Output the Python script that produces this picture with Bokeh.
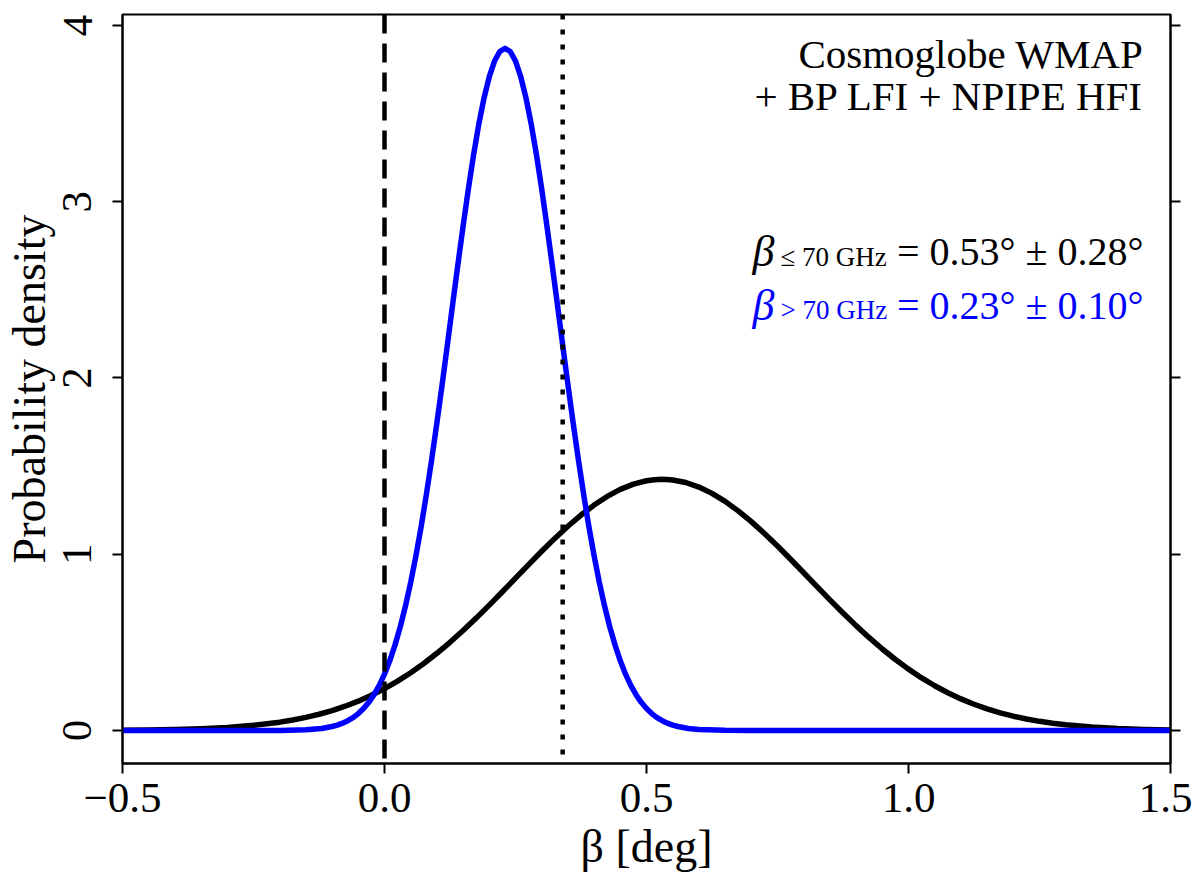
from bokeh.embed import file_html
from bokeh.resources import INLINE
from bokeh.models import Range1d, FixedTicker, LinearAxis, Span, Label, CustomJSTickFormatter
from bokeh.plotting import figure

# black curve: beta <= 70 GHz
x_low = [-0.5, -0.45, -0.4, -0.35, -0.3, -0.25, -0.2, -0.175, -0.15, -0.125,
         -0.1, -0.075, -0.05, -0.025, 0.0, 0.025, 0.05, 0.075, 0.1, 0.125,
         0.15, 0.175, 0.2, 0.225, 0.25, 0.275, 0.3, 0.325, 0.35, 0.375,
         0.4, 0.425, 0.45, 0.475, 0.5, 0.515, 0.53, 0.545, 0.55, 0.575,
         0.6, 0.625, 0.65, 0.675, 0.7, 0.725, 0.75, 0.775, 0.8, 0.825,
         0.85, 0.875, 0.9, 0.925, 0.95, 0.975, 1.0, 1.025, 1.05, 1.075,
         1.1, 1.125, 1.15, 1.175, 1.2, 1.225, 1.25, 1.275, 1.3, 1.35,
         1.4, 1.45, 1.5]
p_low = [0.0016, 0.0031, 0.0057, 0.0102, 0.0176, 0.0294, 0.0476, 0.0599, 0.0746, 0.0924,
         0.1134, 0.138, 0.1667, 0.1998, 0.2375, 0.2802, 0.3279, 0.3805, 0.4382, 0.5006,
         0.5673, 0.6378, 0.7115, 0.7873, 0.8643, 0.9414, 1.017, 1.090, 1.159, 1.2225,
         1.279, 1.328, 1.368, 1.398, 1.417, 1.423, 1.425, 1.423, 1.421, 1.407,
         1.381, 1.3453, 1.300, 1.2462, 1.185, 1.1182, 1.0465, 0.9717, 0.8952, 0.8181,
         0.7416, 0.6671, 0.5952, 0.5268, 0.4626, 0.403, 0.3483, 0.2985, 0.2541, 0.2143,
         0.1795, 0.1491, 0.1228, 0.1003, 0.0814, 0.0654, 0.0522, 0.0414, 0.0325, 0.0196,
         0.0114, 0.0065, 0.0035]

# blue curve: beta > 70 GHz
x_high = [-0.5, -0.3, -0.2, -0.15, -0.12,
          -0.1, -0.09, -0.08, -0.07, -0.06, -0.05, -0.04, -0.03, -0.02, -0.01,
          0.0, 0.01, 0.02, 0.03, 0.04, 0.05, 0.06, 0.07, 0.08, 0.09,
          0.1, 0.11, 0.12, 0.13, 0.14, 0.15, 0.16, 0.17, 0.18, 0.19,
          0.2, 0.21, 0.22, 0.23, 0.24, 0.25, 0.26, 0.27, 0.28, 0.29,
          0.3, 0.31, 0.32, 0.33, 0.34, 0.35, 0.36, 0.37, 0.38, 0.39,
          0.4, 0.41, 0.42, 0.43, 0.44, 0.45, 0.46, 0.47, 0.48, 0.49,
          0.5, 0.51, 0.52, 0.53, 0.54, 0.55, 0.56, 0.58, 0.6, 0.65,
          0.7, 0.8, 1.0, 1.5]
p_high = [0.0, 0.0, 0.0006, 0.0043, 0.012,
          0.0228, 0.031, 0.0418, 0.0557, 0.0735, 0.0962, 0.1246, 0.160, 0.2034, 0.2563,
          0.3198, 0.3955, 0.4845, 0.5875, 0.7063, 0.8406, 0.9915, 1.1575, 1.341, 1.537,
          1.745, 1.963, 2.188, 2.416, 2.642, 2.862, 3.072, 3.266, 3.440, 3.589,
          3.709, 3.798, 3.852, 3.870, 3.852, 3.798, 3.709, 3.589, 3.440, 3.266,
          3.072, 2.862, 2.642, 2.416, 2.188, 1.963, 1.745, 1.537, 1.341, 1.1575,
          0.9915, 0.8406, 0.7063, 0.5875, 0.4845, 0.3955, 0.3198, 0.2563, 0.2034, 0.160,
          0.1246, 0.0962, 0.0735, 0.0557, 0.0418, 0.031, 0.0228, 0.012, 0.0061, 0.001,
          0.0001, 0.0, 0.0, 0.0]

vlines = [0.0, 0.34]
vline_dash = ["19 10", "5 10"]

x_ticks = [-0.5, 0.0, 0.5, 1.0, 1.5]
x_tick_labels = ["\u22120.5", "0.0", "0.5", "1.0", "1.5"]
y_ticks = [0, 1, 2, 3, 4]

title_lines = ["Cosmoglobe WMAP", "+ BP LFI + NPIPE HFI"]
sub_labels = ["\u2264 70 GHz", "> 70 GHz"]
val_labels = ["= 0.53\u00b0 \u00b1 0.28\u00b0", "= 0.23\u00b0 \u00b1 0.10\u00b0"]
val_colors = ["black", "#0000ff"]

FONT = "Liberation Serif"

p = figure(width=1192, height=874, output_backend="svg", toolbar_location=None,
           x_range=Range1d(-0.5, 1.5), y_range=Range1d(-0.187, 4.062),
           min_border_left=122, min_border_right=22, min_border_top=14, min_border_bottom=111)
p.xgrid.visible = False
p.ygrid.visible = False
p.outline_line_color = "black"
p.outline_line_width = 2

p.line(x_low, p_low, line_color="black", line_width=5.5, line_join="round")
p.line(x_high, p_high, line_color="#0000ff", line_width=5.5, line_join="round")

for xv, d in zip(vlines, vline_dash):
    p.add_layout(Span(location=xv, dimension="height", line_color="black",
                      line_width=4.5, line_dash=d))

xa = p.xaxis[0]
xa.ticker = FixedTicker(ticks=x_ticks)
xa.major_label_overrides = {t: s for t, s in zip(x_ticks, x_tick_labels)}
xa.axis_label = "\u03b2 [deg]"

ya = p.yaxis[0]
ya.ticker = FixedTicker(ticks=y_ticks)
ya.axis_label = "Probability density"
ya.major_label_orientation = "vertical"

ra = LinearAxis(ticker=FixedTicker(ticks=y_ticks),
                formatter=CustomJSTickFormatter(code="return ''"),
                major_label_standoff=0)
p.add_layout(ra, "right")

for ax in (xa, ya, ra):
    ax.axis_line_width = 2
    ax.major_tick_line_width = 2
    ax.major_tick_out = 10
    ax.major_tick_in = 0
    ax.minor_tick_line_color = None
    ax.major_label_text_font = FONT
    ax.axis_label_text_font = FONT
    ax.axis_label_text_font_style = "normal"
    ax.axis_label_text_color = "black"
    ax.major_label_text_color = "black"
for ax in (xa, ya):
    ax.major_label_text_font_size = "43px"
    ax.axis_label_text_font_size = "46px"
xa.major_label_standoff = 10
xa.axis_label_standoff = 6
ya.major_label_standoff = 21
ya.axis_label_standoff = 6

# annotation text, placed in data units
p.add_layout(Label(x=1.4485, y=3.84, text=title_lines[0], text_align="right",
                   text_baseline="alphabetic", text_font=FONT, text_font_size="41px",
                   text_color="black"))
p.add_layout(Label(x=1.4485, y=3.60, text=title_lines[1], text_align="right",
                   text_baseline="alphabetic", text_font=FONT, text_font_size="41px",
                   text_color="black"))

base_y = [2.718, 2.413]
sub_y = [2.684, 2.383]
for i in range(2):
    c = val_colors[i]
    p.add_layout(Label(x=0.7023, y=base_y[i], text="\u03b2", text_align="left",
                       text_baseline="alphabetic", text_font=FONT, text_font_style="italic",
                       text_font_size="44px", text_color=c))
    p.add_layout(Label(x=0.7557, y=sub_y[i], text=sub_labels[i], text_align="left",
                       text_baseline="alphabetic", text_font=FONT,
                       text_font_size="27px", text_color=c))
    p.add_layout(Label(x=1.4485, y=base_y[i], text=val_labels[i], text_align="right",
                       text_baseline="alphabetic", text_font=FONT,
                       text_font_size="40px", text_color=c))

open("out.html", "w").write(file_html(p, INLINE))
